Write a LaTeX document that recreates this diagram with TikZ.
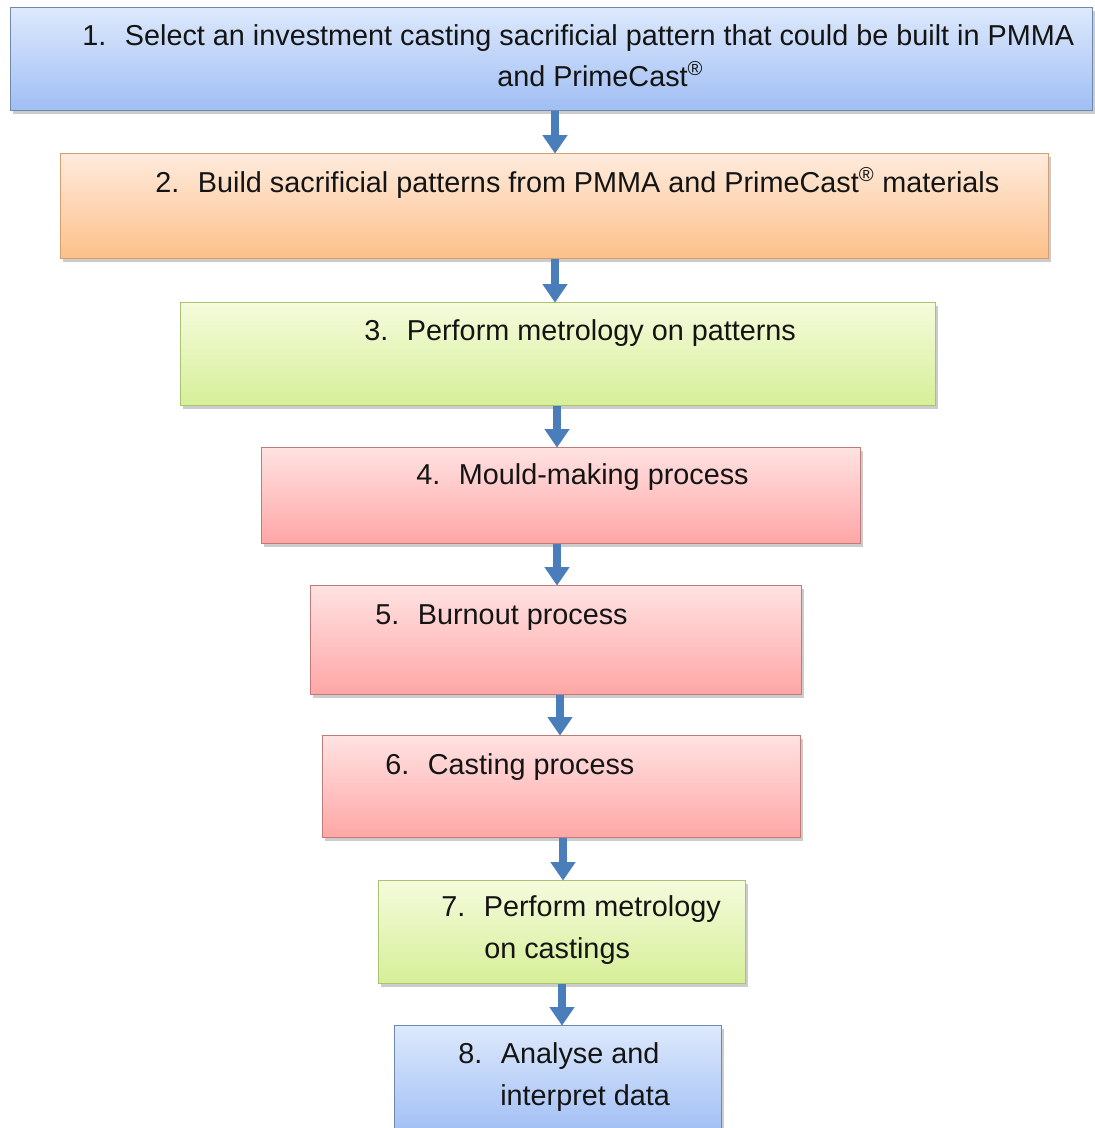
\documentclass[tikz,border=0pt]{standalone}
\usepackage{fontspec}
\setmainfont{Liberation Sans}
\usetikzlibrary{arrows.meta,shadows}
\definecolor{arrowblue}{HTML}{4A7EBB}
\tikzset{
  stepbox/.style={draw=#1, line width=0.9pt, rectangle, inner sep=0pt, anchor=north west,
    drop shadow={shadow xshift=1.5pt, shadow yshift=-2.4pt, opacity=0.4}},
  bluebox/.style={stepbox=bluebd, top color=bluetop, bottom color=bluebot},
  orangebox/.style={stepbox=orangebd, top color=orangetop, bottom color=orangebot},
  greenbox/.style={stepbox=greenbd, top color=greentop, bottom color=greenbot},
  redbox/.style={stepbox=redbd, top color=redtop, bottom color=redbot},
  lbl/.style={anchor=base west, inner sep=0pt, font=\fontsize{21.6pt}{26pt}\selectfont, text=black!92},
  flowarrow/.style={draw=arrowblue, line width=6.5pt, -{Triangle[width=18pt,length=14pt]}, shorten >=-0.5pt},
}
\definecolor{bluetop}{HTML}{DDE9FC}
\definecolor{bluebot}{HTML}{A0BEF4}
\definecolor{bluebd}{HTML}{6F88AE}
\definecolor{orangetop}{HTML}{FFEBDD}
\definecolor{orangebot}{HTML}{FCC08A}
\definecolor{orangebd}{HTML}{D4A070}
\definecolor{greentop}{HTML}{F5FBDC}
\definecolor{greenbot}{HTML}{D6EF98}
\definecolor{greenbd}{HTML}{A8C470}
\definecolor{redtop}{HTML}{FFE2E2}
\definecolor{redbot}{HTML}{FFA6A6}
\definecolor{redbd}{HTML}{C07A7A}
\newcommand{\stepnum}[1]{\makebox[32pt][l]{#1}}
\begin{document}
\begin{tikzpicture}[x=0.75pt,y=-0.75pt]
\useasboundingbox (0,0) rectangle (1095,1128);
% boxes
\node[bluebox, minimum width=1082*0.75pt, minimum height=103*0.75pt] (b1) at (10,7) {};
\node[orangebox, minimum width=988*0.75pt, minimum height=105*0.75pt] (b2) at (60,153) {};
\node[greenbox, minimum width=755*0.75pt, minimum height=103*0.75pt] (b3) at (180,302) {};
\node[redbox, minimum width=599*0.75pt, minimum height=96*0.75pt] (b4) at (261,447) {};
\node[redbox, minimum width=491*0.75pt, minimum height=109*0.75pt] (b5) at (310,585) {};
\node[redbox, minimum width=478*0.75pt, minimum height=102*0.75pt] (b6) at (322,735) {};
\node[greenbox, minimum width=367*0.75pt, minimum height=103*0.75pt] (b7) at (378,880) {};
\node[bluebox, minimum width=327*0.75pt, minimum height=110*0.75pt] (b8) at (394,1025) {};
% texts
\node[lbl] (t1a) at (82,45) {\stepnum{1.}Select an investment casting sacrificial pattern that could be built in PMMA};
\node[lbl] (t1b) at (497,86) {and PrimeCast\textsuperscript{®}};
\node[lbl] (t2) at (155,192) {\stepnum{2.}Build sacrificial patterns from PMMA and PrimeCast\textsuperscript{®} materials};
\node[lbl] (t3) at (364,340) {\stepnum{3.}Perform metrology on patterns};
\node[lbl] (t4) at (416,484) {\stepnum{4.}Mould-making process};
\node[lbl] (t5) at (375,624) {\stepnum{5.}Burnout process};
\node[lbl] (t6) at (385,774) {\stepnum{6.}Casting process};
\node[lbl] (t7a) at (441,916) {\stepnum{7.}Perform metrology};
\node[lbl] (t7b) at (484,958) {on castings};
\node[lbl] (t8a) at (458,1063) {\stepnum{8.}Analyse and};
\node[lbl] (t8b) at (500,1105) {interpret data};
% arrow x positions
\coordinate (x1) at (555,0);
\coordinate (x2) at (555,0);
\coordinate (x3) at (557,0);
\coordinate (x4) at (557,0);
\coordinate (x5) at (560,0);
\coordinate (x6) at (563,0);
\coordinate (x7) at (562,0);
\draw[flowarrow] (b1.south -| x1) -- (b2.north -| x1);
\draw[flowarrow] (b2.south -| x2) -- (b3.north -| x2);
\draw[flowarrow] (b3.south -| x3) -- (b4.north -| x3);
\draw[flowarrow] (b4.south -| x4) -- (b5.north -| x4);
\draw[flowarrow] (b5.south -| x5) -- (b6.north -| x5);
\draw[flowarrow] (b6.south -| x6) -- (b7.north -| x6);
\draw[flowarrow] (b7.south -| x7) -- (b8.north -| x7);
\end{tikzpicture}
\end{document}
